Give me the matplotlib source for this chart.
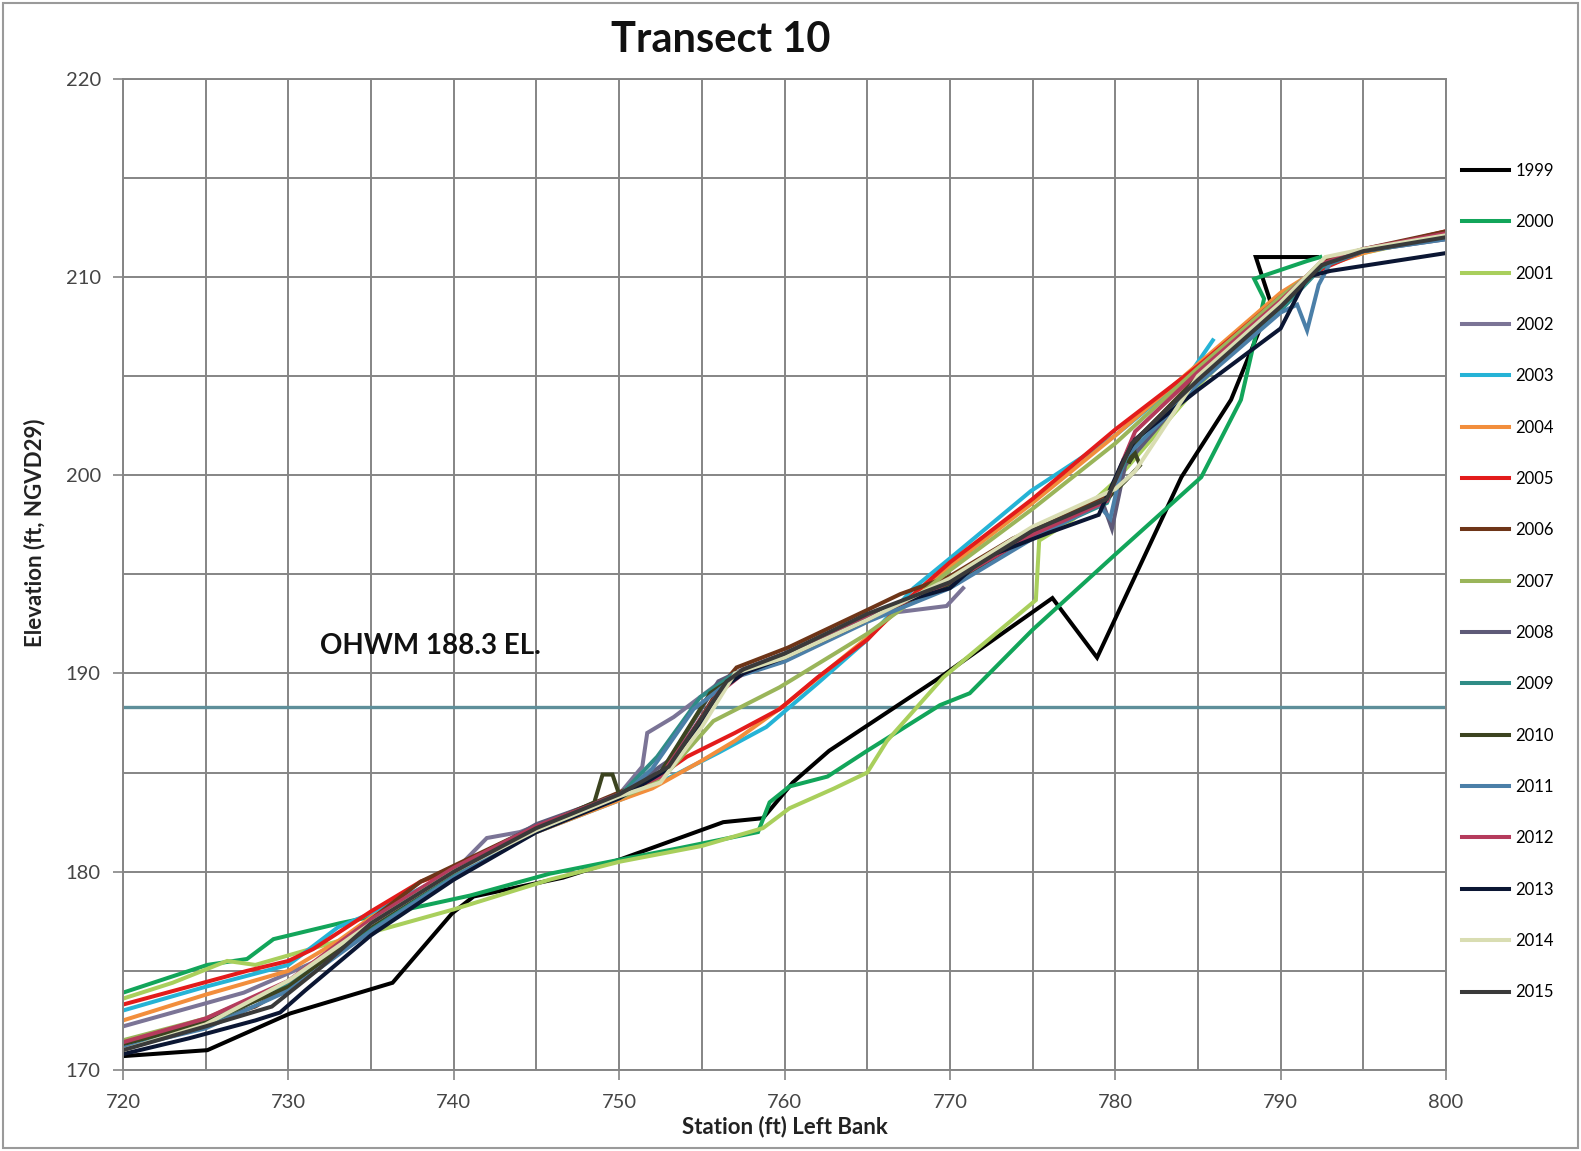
import matplotlib
matplotlib.use("Agg")
import matplotlib.pyplot as plt
from matplotlib.patches import Rectangle

plt.rcParams['font.family'] = ['Lato', 'DejaVu Sans']

# ---- survey profiles: station (ft from left bank) vs elevation (ft, NGVD29) ----
sta_1999 = [720, 725.1, 730.1, 736.3, 739.9, 741.2, 746.6, 750, 756.3, 758.7, 760.5, 762.7, 769.4, 776.2, 778.9, 784, 787, 789.4, 788.5, 792.2]
elev_1999 = [170.7, 171.0, 172.85, 174.4, 177.9, 178.75, 179.7, 180.6, 182.5, 182.7, 184.5, 186.1, 189.8, 193.8, 190.8, 199.9, 203.8, 208.7, 211.0, 211.0]

sta_2000 = [720, 725.1, 727.5, 729.1, 733.1, 737.7, 741, 745.8, 750, 753.7, 758.4, 759.1, 760.3, 762.6, 765, 769.4, 771.2, 775, 780, 785.2, 787.6, 789.0, 788.4, 791.6, 792.4]
elev_2000 = [173.9, 175.3, 175.6, 176.6, 177.4, 178.2, 178.8, 179.9, 180.6, 181.2, 182.0, 183.5, 184.3, 184.8, 186.1, 188.4, 189.0, 192.2, 196.0, 199.9, 203.8, 208.9, 209.9, 210.8, 211.0]

sta_2001 = [720, 723, 726.3, 728, 733, 735.7, 740, 745.8, 750, 755, 758.7, 760.3, 763, 765, 766.2, 769.6, 775.2, 775.4, 777.5, 780, 785, 790, 792.5, 795, 800]
elev_2001 = [173.6, 174.4, 175.5, 175.3, 176.5, 177.1, 178.1, 179.6, 180.5, 181.3, 182.2, 183.2, 184.2, 185.0, 186.6, 189.8, 193.7, 196.7, 197.8, 199.7, 204.5, 208.6, 210.6, 211.2, 212.1]

sta_2002 = [720, 727.3, 733.1, 736, 740, 742, 744, 750, 751.4, 751.7, 753.3, 756, 757.5, 760, 765, 769.8, 770.8]
elev_2002 = [172.2, 173.9, 176.0, 178.0, 180.0, 181.7, 182.0, 183.9, 185.3, 187.0, 187.8, 189.5, 190.2, 191.0, 192.9, 193.4, 194.3]

sta_2003 = [720, 725, 730, 733, 735, 740, 745, 750, 752, 756, 758.9, 762, 765, 767.8, 770, 774.9, 780, 784.5, 785.9]
elev_2003 = [173.0, 174.2, 175.3, 177.2, 177.9, 180.0, 182.0, 183.6, 184.3, 186.0, 187.3, 189.5, 191.7, 194.3, 195.8, 199.2, 202.0, 205.1, 206.8]

sta_2004 = [720, 725, 730, 733, 735, 740, 745, 750, 752, 755, 757, 760, 765, 767, 770, 775, 780, 785, 790, 792.5, 795, 800]
elev_2004 = [172.5, 173.8, 175.0, 176.5, 177.7, 180.0, 182.0, 183.6, 184.2, 185.6, 186.6, 188.4, 191.8, 193.3, 195.4, 198.6, 202.0, 205.6, 209.2, 210.5, 211.2, 212.2]

sta_2005 = [720, 727.5, 730, 731.5, 735, 738, 740, 745, 750, 752, 754.1, 757, 759.7, 762, 765, 767, 770, 775, 780, 785, 790, 792.5, 795, 800]
elev_2005 = [173.3, 175.0, 175.5, 176.1, 178.0, 179.5, 180.1, 182.2, 183.8, 184.6, 185.8, 187.0, 188.2, 189.8, 191.7, 193.4, 195.6, 198.8, 202.3, 205.5, 209.0, 210.4, 211.3, 212.3]

sta_2006 = [720, 723, 725, 728, 730, 732, 735, 738, 740, 742, 745, 748, 750, 752.9, 756.1, 757.1, 760.2, 765, 767, 770, 773.8, 776, 779.7, 781, 785, 790, 792.5, 795, 800]
elev_2006 = [171.2, 172.0, 172.4, 173.2, 174.2, 175.5, 177.6, 179.5, 180.3, 181.1, 182.3, 183.3, 184.0, 185.0, 189.3, 190.3, 191.3, 193.2, 194.0, 194.9, 196.8, 197.6, 199.1, 201.5, 205.0, 208.7, 210.8, 211.4, 212.3]

sta_2007 = [720, 725, 730, 735, 740, 745, 750, 752.5, 755.7, 759.7, 765, 767, 770, 775, 780, 785, 790, 792.5, 795, 800]
elev_2007 = [171.5, 172.6, 174.4, 177.4, 180.0, 182.1, 183.7, 184.6, 187.6, 189.3, 192.0, 193.2, 195.2, 198.3, 201.6, 205.4, 209.0, 210.6, 211.3, 212.0]

sta_2008 = [720, 725, 730, 735, 740, 745, 750, 753, 756, 757.5, 760, 765, 770, 775, 779.2, 779.8, 780.6, 785, 790, 792.5, 795, 800]
elev_2008 = [171.2, 172.4, 174.3, 177.3, 180.0, 182.4, 183.9, 185.6, 189.6, 190.2, 191.0, 192.9, 194.6, 197.0, 198.7, 197.3, 200.5, 204.8, 208.4, 210.6, 211.3, 211.9]

sta_2009 = [720, 725, 730, 735, 740, 745, 750, 752.3, 754.9, 757, 760, 765, 770, 775, 779.5, 781, 785, 790, 792.5, 795, 800]
elev_2009 = [171.3, 172.3, 174.3, 177.2, 179.8, 182.2, 183.8, 185.8, 188.8, 190.0, 190.7, 192.7, 194.5, 196.9, 198.6, 201.5, 204.9, 208.3, 210.5, 211.3, 212.0]

sta_2010 = [720, 725, 730, 735, 740, 745, 748.5, 749.0, 749.6, 750, 752.5, 755.5, 757.5, 760, 765, 770, 775, 779.5, 780.6, 781.5, 781.2, 780.8, 781.5, 785, 790, 792.5, 795, 800]
elev_2010 = [171.3, 172.4, 174.2, 177.3, 180.0, 182.2, 183.5, 184.9, 184.9, 183.9, 185.0, 189.0, 190.1, 190.9, 192.8, 194.5, 197.0, 198.8, 199.7, 200.5, 201.1, 200.6, 202.0, 204.9, 208.5, 210.6, 211.3, 212.1]

sta_2011 = [720, 725, 730, 735, 740, 745, 750, 752, 754.5, 757, 760, 765, 770, 775, 779, 779.7, 780.5, 785, 790, 791.0, 791.6, 792.3, 793, 795, 800]
elev_2011 = [171.1, 172.1, 174.0, 177.0, 179.7, 182.1, 183.7, 185.2, 188.2, 189.8, 190.6, 192.6, 194.3, 196.8, 198.5, 197.8, 200.8, 204.6, 208.2, 208.6, 207.3, 209.6, 210.7, 211.3, 211.9]

sta_2012 = [720, 725, 730, 735, 740, 745, 750, 752.5, 756, 757.5, 760, 765, 770, 775, 779.5, 780.5, 781.2, 785, 790, 792.3, 795, 800]
elev_2012 = [171.4, 172.6, 174.5, 177.6, 180.2, 182.3, 183.9, 184.8, 189.0, 190.0, 190.9, 192.8, 194.6, 197.0, 198.7, 200.8, 202.2, 205.2, 208.8, 210.6, 211.4, 212.2]

sta_2013 = [720, 724, 728, 729.5, 731, 735, 740, 745, 750, 753, 756.5, 757.5, 760, 765, 767, 770, 772, 776, 779, 780.4, 781.2, 785, 790, 791.6, 793, 800]
elev_2013 = [170.8, 171.6, 172.5, 172.9, 174.0, 176.8, 179.6, 182.0, 183.7, 185.2, 189.4, 190.0, 190.8, 192.7, 193.6, 194.3, 195.8, 197.1, 198.0, 200.6, 201.8, 204.3, 207.4, 210.0, 210.3, 211.2]

sta_2014 = [720, 725, 730, 735, 740, 745, 750, 752.5, 755, 757, 760, 765, 770, 775, 780, 781.2, 785, 790, 792.7, 795, 800]
elev_2014 = [171.0, 172.3, 174.5, 177.4, 180.0, 182.1, 183.8, 184.5, 187.3, 190.0, 190.8, 192.7, 194.8, 197.4, 199.3, 200.2, 205.0, 208.7, 211.0, 211.4, 212.1]

sta_2015 = [720, 725, 729, 732, 735, 740, 745, 750, 753, 756.5, 757.5, 760, 765, 770, 775, 779.5, 781, 785, 790, 792.5, 795, 800]
elev_2015 = [171.0, 172.2, 173.2, 175.2, 177.4, 180.0, 182.2, 183.9, 185.3, 189.6, 190.2, 191.0, 193.0, 194.6, 197.2, 198.8, 201.6, 204.8, 208.5, 210.6, 211.3, 212.0]

years = ['1999', '2000', '2001', '2002', '2003', '2004', '2005', '2006', '2007',
         '2008', '2009', '2010', '2011', '2012', '2013', '2014', '2015']
stations = [sta_1999, sta_2000, sta_2001, sta_2002, sta_2003, sta_2004, sta_2005, sta_2006, sta_2007,
            sta_2008, sta_2009, sta_2010, sta_2011, sta_2012, sta_2013, sta_2014, sta_2015]
elevations = [elev_1999, elev_2000, elev_2001, elev_2002, elev_2003, elev_2004, elev_2005, elev_2006, elev_2007,
              elev_2008, elev_2009, elev_2010, elev_2011, elev_2012, elev_2013, elev_2014, elev_2015]
colors = ['#000000', '#12A55A', '#A9CF5C', '#7B7496', '#25B3D6', '#F28E3C', '#E31B1B', '#6E3518', '#9AB55A',
          '#5E5A78', '#2F8C86', '#3C4420', '#4B7FA8', '#B53B5C', '#0B1633', '#D9DDB2', '#3A3A3A']

ohwm_elev = 188.3
ohwm_label = 'OHWM 188.3 EL.'

x_ticks = [720, 730, 740, 750, 760, 770, 780, 790, 800]
y_ticks = [170, 180, 190, 200, 210, 220]

W, H = 1581, 1151
fig = plt.figure(figsize=(W / 100, H / 100), dpi=100)
ax = fig.add_axes([123 / W, 1 - 1070 / H, 1323 / W, 991.4 / H])

ax.set_xlim(720, 800)
ax.set_ylim(170, 220)
ax.set_xticks(x_ticks)
ax.set_yticks(y_ticks)
ax.set_xticks(range(725, 800, 10), minor=True)
ax.set_yticks(range(175, 220, 10), minor=True)
ax.grid(True, which='both', color='#858585', linewidth=1.4)
ax.set_axisbelow(True)
for s in ax.spines.values():
    s.set_color('#858585')
    s.set_linewidth(1.4)
ax.tick_params(axis='x', which='major', length=7, width=1.2, color='#858585',
               labelsize=14.5, labelcolor='#454545', pad=10)
ax.tick_params(axis='y', which='major', length=7, width=1.2, color='#858585',
               labelsize=14.5, labelcolor='#454545', pad=9)
ax.tick_params(axis='both', which='minor', length=0)

ax.axhline(ohwm_elev, color='#5E8F9A', linewidth=2.4, zorder=1.5)
ax.text(731.9, 191.4, ohwm_label, fontsize=20, fontweight='bold', color='#111111',
        va='center', ha='left')

handles = []
for yr, xs, ys, c in zip(years, stations, elevations, colors):
    ln, = ax.plot(xs, ys, color=c, linewidth=2.9, label=yr, solid_joinstyle='miter', zorder=2)
    handles.append(ln)

ax.set_xlabel('Station (ft) Left Bank', fontsize=16, fontweight='bold', color='#222222')
ax.xaxis.set_label_coords((785 - 123) / 1323, -(1116 - 1070) / 991.4)
ax.set_ylabel('Elevation (ft, NGVD29)', fontsize=16, fontweight='bold', color='#222222')
ax.yaxis.set_label_coords(-(123 - 45) / 1323, (1070 - 533) / 991.4)

fig.text(721 / W, 1 - 40 / H, 'Transect 10', fontsize=30, fontweight='bold',
         ha='center', va='center', color='#111111')

fig.legend(handles=handles, loc='upper left', bbox_to_anchor=(1462 / W, 1 - 163 / H),
           frameon=False, fontsize=12, handlelength=2.8, handletextpad=0.4,
           labelspacing=2.12, borderpad=0, borderaxespad=0)

fig.add_artist(Rectangle((3 / W, 3 / H), 1 - 6 / W, 1 - 6 / H, transform=fig.transFigure,
                         fill=False, edgecolor='#9a9a9a', linewidth=1.5))

fig.savefig('out.png', dpi=100)
